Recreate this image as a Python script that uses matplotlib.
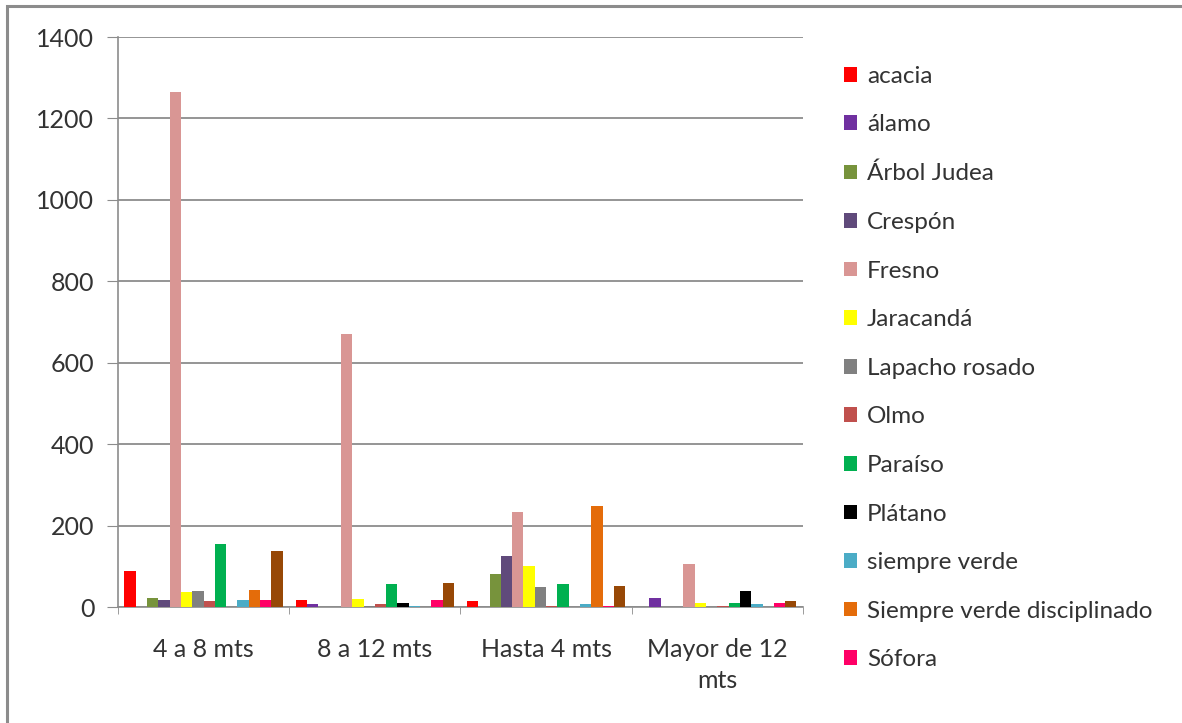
import numpy as np
import matplotlib
matplotlib.use("Agg")
import matplotlib.pyplot as plt
from matplotlib.patches import Rectangle

plt.rcParams['font.family'] = ['Lato', 'DejaVu Sans']

# Datos
categorias = ["4 a 8 mts", "8 a 12 mts", "Hasta 4 mts", "Mayor de 12\nmts"]

especies = ["acacia", "álamo", "Árbol Judea", "Crespón", "Fresno", "Jaracandá",
            "Lapacho rosado", "Olmo", "Paraíso", "Plátano", "siempre verde",
            "Siempre verde disciplinado", "Sófora", "otra"]

acacia = [88, 17, 14, 0]
alamo = [0, 8, 0, 23]
arbol_judea = [22, 0, 81, 0]
crespon = [17, 0, 125, 0]
fresno = [1265, 670, 234, 105]
jaracanda = [37, 20, 100, 11]
lapacho = [39, 3, 49, 0]
olmo = [14, 7, 3, 3]
paraiso = [156, 56, 56, 11]
platano = [0, 10, 0, 40]
siempre_verde = [17, 3, 8, 8]
sv_disciplinado = [43, 0, 248, 0]
sofora = [17, 17, 3, 11]
otra = [137, 59, 52, 14]

valores = [acacia, alamo, arbol_judea, crespon, fresno, jaracanda, lapacho,
           olmo, paraiso, platano, siempre_verde, sv_disciplinado, sofora, otra]

colores = ["#FF0000", "#7030A0", "#77933C", "#604A7B", "#D99694", "#FFFF00",
           "#808080", "#C0504D", "#00B050", "#000000", "#4BACC6", "#E46C0A",
           "#FF0066", "#974806"]

fig = plt.figure(figsize=(11.82, 7.23), dpi=100)
ax = fig.add_axes([0.0998, 0.1604, 0.5795, 0.7884])

x = np.arange(len(categorias))
n = len(especies)
ancho = 0.066
handles = []
for i, (nombre, vals, col) in enumerate(zip(especies, valores, colores)):
    off = (i - (n - 1) / 2) * ancho
    b = ax.bar(x + off, vals, ancho, color=col, label=nombre, zorder=3)
    handles.append(b)

ax.set_ylim(0, 1400)
ax.set_xlim(-0.5, len(categorias) - 0.5)
ax.set_yticks(np.arange(0, 1401, 200))
ax.yaxis.grid(True, color="#8c8c8c", linewidth=1.3, zorder=0)
ax.set_axisbelow(True)

for s in ["top", "right"]:
    ax.spines[s].set_visible(False)
ax.spines["left"].set_color("#8c8c8c")
ax.spines["bottom"].set_color("#8c8c8c")
ax.spines["left"].set_linewidth(1.2)
ax.spines["bottom"].set_linewidth(1.2)

ax.set_xticks(x)
ax.set_xticklabels(categorias, fontsize=18, color="#333333", linespacing=1.45)
ax.set_xticks(np.arange(-0.5, len(categorias), 1.0), minor=True)
ax.tick_params(axis="x", which="major", length=0, pad=22)
ax.tick_params(axis="x", which="minor", length=5, color="#8c8c8c", direction="out")
ax.tick_params(axis="y", length=8, color="#8c8c8c", pad=9, labelsize=18,
               labelcolor="#333333")

fig.legend(handles=handles[:13], loc="upper left",
           bbox_to_anchor=(0.714, 0.909), frameon=False, fontsize=17.5,
           handlelength=0.55, handleheight=0.55, handletextpad=0.4,
           labelspacing=1.135, borderpad=0, borderaxespad=0,
           labelcolor="#333333")

# marco del gráfico
fig.add_artist(Rectangle((0.0059, -0.2), 1.2, 1.1917, fill=False,
                         edgecolor="#8c8c8c", linewidth=2.2,
                         transform=fig.transFigure, clip_on=False))

fig.savefig("out.png", dpi=100)
